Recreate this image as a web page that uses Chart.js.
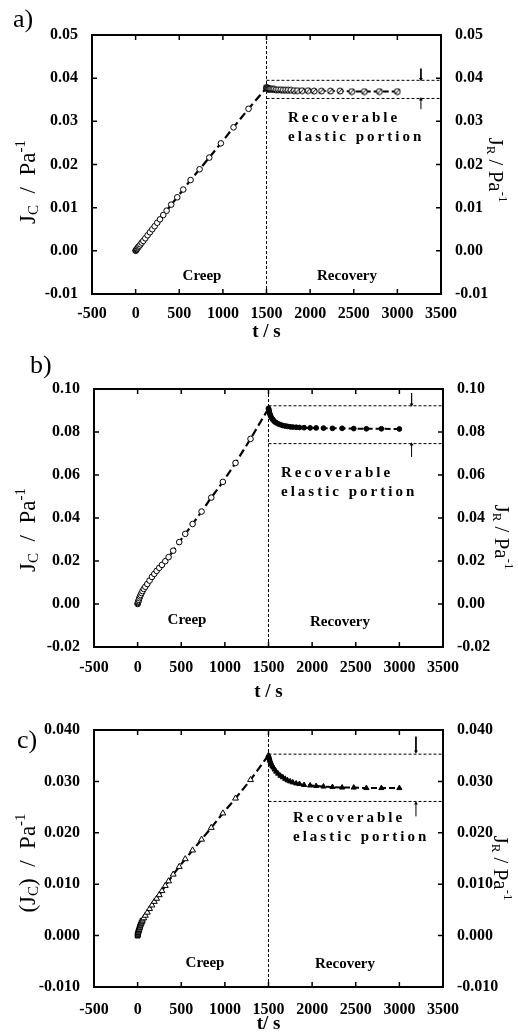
<!DOCTYPE html>
<html lang="en">
<head>
<meta charset="UTF-8">
<title>Creep and recovery compliance</title>
<script src="https://cdn.jsdelivr.net/npm/chart.js"></script>
<style>
  body { margin: 0; background: #fff; }
  #wrap { position: relative; width: 518px; height: 1034px; }
  canvas { position: absolute; left: 0; }
</style>
</head>
<body>
<div id="wrap">
  <canvas id="chartA" width="518" height="345" style="top:0px"></canvas>
  <canvas id="chartB" width="518" height="360" style="top:345px"></canvas>
  <canvas id="chartC" width="518" height="329" style="top:705px"></canvas>
</div>
<script>
// sampling times (s)
const creepTime = [0, 2, 5, 9, 14, 20, 27, 35, 45, 56, 70, 88, 111, 137, 164, 191, 218, 248, 279, 317, 355, 408, 477, 546, 630, 733, 844, 977, 1122, 1294, 1500];
const recoveryTime = [1500, 1502, 1505, 1509, 1514, 1520, 1527, 1535, 1545, 1556, 1570, 1588, 1611, 1637, 1664, 1691, 1718, 1748, 1779, 1817, 1855, 1908, 1977, 2046, 2130, 2233, 2344, 2477, 2622, 2794, 3000];

// a) compliance, Pa^-1
const creepA = [0.0000, 0.0001, 0.0002, 0.0003, 0.0004, 0.0006, 0.0008, 0.0010, 0.0012, 0.0015, 0.0019, 0.0023, 0.0029, 0.0036, 0.0043, 0.0050, 0.0057, 0.0065, 0.0073, 0.0083, 0.0093, 0.0107, 0.0124, 0.0142, 0.0164, 0.0189, 0.0216, 0.0249, 0.0286, 0.0329, 0.0378];
const recoveryA = [0.0378, 0.0378, 0.0377, 0.0377, 0.0376, 0.0376, 0.0375, 0.0375, 0.0375, 0.0374, 0.0374, 0.0374, 0.0373, 0.0373, 0.0373, 0.0372, 0.0372, 0.0372, 0.0372, 0.0371, 0.0371, 0.0371, 0.0371, 0.0370, 0.0370, 0.0370, 0.0370, 0.0369, 0.0369, 0.0369, 0.0369];
const levelsA = [0.0395, 0.0353];
const arrowXA = 3270;
const arrowDownA = [0.0422, 0.0398];
const arrowUpA = [0.0328, 0.0351];

// b)
const creepB = [0.0000, 0.0004, 0.0008, 0.0013, 0.0019, 0.0027, 0.0035, 0.0042, 0.0051, 0.0060, 0.0070, 0.0080, 0.0093, 0.0109, 0.0126, 0.0140, 0.0154, 0.0168, 0.0182, 0.0199, 0.0218, 0.0248, 0.0288, 0.0326, 0.0372, 0.0430, 0.0495, 0.0568, 0.0656, 0.0768, 0.0910];
const recoveryB = [0.0910, 0.0906, 0.0900, 0.0893, 0.0886, 0.0879, 0.0872, 0.0866, 0.0860, 0.0854, 0.0848, 0.0843, 0.0838, 0.0834, 0.0830, 0.0828, 0.0826, 0.0824, 0.0823, 0.0822, 0.0821, 0.0820, 0.0819, 0.0819, 0.0818, 0.0817, 0.0817, 0.0816, 0.0815, 0.0815, 0.0814];
const levelsB = [0.0922, 0.0746];
const arrowXB = 3140;
const arrowDownB = [0.0981, 0.0928];
const arrowUpB = [0.0684, 0.0742];

// c)
const creepC = [0.0000, 0.0002, 0.0004, 0.0007, 0.0010, 0.0013, 0.0017, 0.0021, 0.0025, 0.0029, 0.0034, 0.0039, 0.0045, 0.0052, 0.0059, 0.0066, 0.0072, 0.0079, 0.0087, 0.0097, 0.0106, 0.0119, 0.0134, 0.0149, 0.0166, 0.0187, 0.0210, 0.0238, 0.0267, 0.0303, 0.0351];
const recoveryC = [0.0351, 0.0349, 0.0347, 0.0345, 0.0342, 0.0339, 0.0336, 0.0333, 0.0330, 0.0327, 0.0323, 0.0319, 0.0315, 0.0311, 0.0308, 0.0305, 0.0302, 0.0300, 0.0298, 0.0296, 0.0295, 0.0293, 0.0292, 0.0291, 0.0290, 0.0289, 0.0288, 0.0288, 0.0287, 0.0287, 0.0287];
const levelsC = [0.0353, 0.0261];
const arrowXC = 3190;
const arrowDownC = [0.0387, 0.0358];
const arrowUpC = [0.0232, 0.0257];

const xRange = [-500, 3500];
const xStep = 500;
const tStep = 1500; // creep -> recovery switch

function serif(size, bold) {
  return (bold ? 'bold ' : '') + size + 'px "Liberation Serif", "Times New Roman", serif';
}

function pts(xs, ys) {
  return xs.map((x, i) => ({ x: x, y: ys[i] }));
}

function crossedCircle() {
  const c = document.createElement('canvas');
  c.width = 8; c.height = 8;
  const g = c.getContext('2d');
  g.fillStyle = '#fff'; g.strokeStyle = '#000'; g.lineWidth = 1;
  g.beginPath(); g.arc(4, 4, 3, 0, Math.PI * 2); g.fill(); g.stroke();
  g.beginPath(); g.moveTo(2, 6); g.lineTo(6, 2); g.stroke();
  return c;
}

function spaced(ctx, text, x, y, gap) {
  for (const ch of text) {
    ctx.fillText(ch, x, y);
    x += ctx.measureText(ch).width + gap;
  }
}

function rotTitle(ctx, x, y, angle, parts) {
  ctx.save();
  ctx.translate(x, y);
  ctx.rotate(angle);
  let w = 0;
  parts.forEach(p => { ctx.font = serif(p.size); p.w = ctx.measureText(p.text).width; w += p.w; });
  let cx = -w / 2;
  ctx.textBaseline = 'middle';
  ctx.textAlign = 'left';
  parts.forEach(p => { ctx.font = serif(p.size); ctx.fillText(p.text, cx, p.dy || 0); cx += p.w; });
  ctx.restore();
}

const decor = {
  id: 'decor',
  afterDraw(chart, args, o) {
    const { ctx, chartArea: a, scales } = chart;
    ctx.save();
    ctx.strokeStyle = '#000';
    ctx.fillStyle = '#000';
    // inward ticks
    ctx.lineWidth = 1.5;
    ctx.beginPath();
    scales.x.ticks.forEach(t => {
      const px = scales.x.getPixelForValue(t.value);
      ctx.moveTo(px, a.bottom); ctx.lineTo(px, a.bottom - 5);
      ctx.moveTo(px, a.top); ctx.lineTo(px, a.top + 5);
    });
    scales.y.ticks.forEach(t => {
      const py = scales.y.getPixelForValue(t.value);
      ctx.moveTo(a.left, py); ctx.lineTo(a.left + 5, py);
      ctx.moveTo(a.right, py); ctx.lineTo(a.right - 5, py);
    });
    ctx.stroke();
    ctx.lineWidth = 2;
    ctx.strokeRect(a.left, a.top, a.right - a.left, a.bottom - a.top);

    // panel letter
    ctx.font = serif(26);
    ctx.textAlign = 'left';
    ctx.textBaseline = 'alphabetic';
    ctx.fillText(o.letter[0], o.letter[1], o.letter[2]);

    // region labels
    ctx.font = serif(15, true);
    ctx.textAlign = 'center';
    ctx.textBaseline = 'middle';
    ctx.fillText('Creep', o.creepAt[0], o.creepAt[1]);
    ctx.fillText('Recovery', o.recAt[0], o.recAt[1]);
    ctx.font = serif(15, true);
    ctx.textAlign = 'left';
    spaced(ctx, 'Recoverable', o.elasticAt[0], o.elasticAt[1], 3);
    spaced(ctx, 'elastic portion', o.elasticAt[0], o.elasticAt[1] + 19, 3);

    // axis titles
    rotTitle(ctx, o.leftTitle[0], o.leftTitle[1], -Math.PI / 2, o.leftParts);
    rotTitle(ctx, o.rightTitle[0], o.rightTitle[1], Math.PI / 2, [
      { text: 'J', size: 21 }, { text: 'R', size: 13, dy: 5 },
      { text: ' / Pa', size: 21 }, { text: '-1', size: 13, dy: -7 }
    ]);
    ctx.restore();
  }
};

function build(id, p) {
  const fmt = v => Number(v).toFixed(p.dec);
  const tickFont = { family: '"Liberation Serif", "Times New Roman", serif', weight: 'bold', size: 16 };
  const refLine = { showLine: true, borderColor: '#000', borderWidth: 1, borderDash: [3, 2], pointRadius: 0, fill: false };
  const arrow = (ys, rot) => Object.assign({}, refLine, {
    data: pts([p.arrowX, p.arrowX], ys), borderDash: [],
    pointRadius: [0, 2.2], pointStyle: 'triangle', pointRotation: rot,
    pointBackgroundColor: '#000', pointBorderColor: '#000', pointBorderWidth: 0
  });
  const creepRadius = creepTime.map((t, i) => i === creepTime.length - 1 ? 0 : p.creepR);
  return new Chart(document.getElementById(id), {
    type: 'scatter',
    data: {
      datasets: [
        {
          label: 'Recovery', data: pts(recoveryTime, p.recovery), showLine: true,
          borderColor: '#000', borderWidth: 2, borderDash: [6, 3],
          pointStyle: p.recStyle, pointRadius: p.recR,
          pointBackgroundColor: p.recFill, pointBorderColor: '#000', pointBorderWidth: 1
        },
        {
          label: 'Creep', data: pts(creepTime, p.creep), showLine: true,
          borderColor: '#000', borderWidth: 2.2, borderDash: [8, 4],
          pointStyle: p.creepStyle, pointRadius: creepRadius,
          pointBackgroundColor: p.creepFill, pointBorderColor: '#000', pointBorderWidth: 1
        },
        Object.assign({}, refLine, { data: pts([tStep, tStep], [p.yMin, p.yMax]) }),
        Object.assign({}, refLine, { data: pts([tStep, xRange[1]], [p.levels[0], p.levels[0]]) }),
        Object.assign({}, refLine, { data: pts([tStep, xRange[1]], [p.levels[1], p.levels[1]]) }),
        arrow(p.arrowDown, 180),
        arrow(p.arrowUp, 0)
      ]
    },
    options: {
      responsive: false,
      animation: false,
      devicePixelRatio: 1,
      layout: { padding: { top: p.top, left: 0, right: 0, bottom: 0 } },
      plugins: {
        legend: { display: false },
        tooltip: { enabled: false },
        decor: p.decor
      },
      scales: {
        x: {
          type: 'linear', position: 'bottom', min: xRange[0], max: xRange[1],
          grid: { display: false }, border: { display: false },
          ticks: { stepSize: xStep, color: '#000', font: tickFont, padding: p.xPad, maxRotation: 0,
                   callback: v => String(v) },
          title: { display: true, text: p.xTitle, color: '#000',
                   font: { family: '"Liberation Serif", "Times New Roman", serif', weight: 'bold', size: 19, lineHeight: 1 },
                   padding: { top: 0, bottom: p.titlePad } },
          afterFit: s => { s.height = p.xh; }
        },
        y: {
          type: 'linear', position: 'left', min: p.yMin, max: p.yMax,
          grid: { display: false }, border: { display: false },
          ticks: { stepSize: p.yStep, color: '#000', font: tickFont, padding: 6, callback: fmt },
          afterFit: s => { s.width = p.lw; }
        },
        y2: {
          type: 'linear', position: 'right', min: p.yMin, max: p.yMax,
          grid: { display: false }, border: { display: false },
          ticks: { stepSize: p.yStep, color: '#000', font: tickFont, padding: 6, callback: fmt },
          afterFit: s => { s.width = p.rw; }
        }
      }
    },
    plugins: [decor]
  });
}

const leftJc = [
  { text: 'J', size: 23 }, { text: 'C', size: 15, dy: 5 },
  { text: '  /  Pa', size: 23 }, { text: '-1', size: 15, dy: -8 }
];
const leftJcParen = [
  { text: '(J', size: 23 }, { text: 'C', size: 15, dy: 5 },
  { text: ')  /  Pa', size: 23 }, { text: '-1', size: 15, dy: -8 }
];

build('chartA', {
  creep: creepA, recovery: recoveryA, levels: levelsA,
  arrowX: arrowXA, arrowDown: arrowDownA, arrowUp: arrowUpA,
  yMin: -0.01, yMax: 0.05, yStep: 0.01, dec: 2,
  creepStyle: 'circle', creepR: 2.8, creepFill: '#fff',
  recStyle: crossedCircle(), recR: 3, recFill: '#fff',
  top: 35, lw: 92, rw: 77, xh: 51, xPad: 2, titlePad: 3, xTitle: 't / s',
  decor: {
    letter: ['a)', 13, 27], creepAt: [202, 276], recAt: [347, 276], elasticAt: [288, 118],
    leftTitle: [29, 182], rightTitle: [495, 170], leftParts: leftJc
  }
});

build('chartB', {
  creep: creepB, recovery: recoveryB, levels: levelsB,
  arrowX: arrowXB, arrowDown: arrowDownB, arrowUp: arrowUpB,
  yMin: -0.02, yMax: 0.10, yStep: 0.02, dec: 2,
  creepStyle: 'circle', creepR: 2.8, creepFill: '#fff',
  recStyle: 'circle', recR: 2.4, recFill: '#000',
  top: 44, lw: 94, rw: 75, xh: 58, xPad: 3, titlePad: 3, xTitle: 't / s',
  decor: {
    letter: ['b)', 30, 28], creepAt: [187, 275], recAt: [340, 277], elasticAt: [281, 128],
    leftTitle: [29, 185], rightTitle: [501, 192], leftParts: leftJc
  }
});

build('chartC', {
  creep: creepC, recovery: recoveryC, levels: levelsC,
  arrowX: arrowXC, arrowDown: arrowDownC, arrowUp: arrowUpC,
  yMin: -0.010, yMax: 0.040, yStep: 0.010, dec: 3,
  creepStyle: creepTime.map((t, i) => i < 10 ? 'rect' : 'triangle'), creepR: 3.4,
  creepFill: creepTime.map((t, i) => i < 10 ? '#666' : '#fff'),
  recStyle: 'triangle', recR: 3, recFill: '#000',
  top: 25, lw: 94, rw: 75, xh: 47, xPad: 5, titlePad: 0, xTitle: 't/ s',
  decor: {
    letter: ['c)', 17, 43], creepAt: [205, 258], recAt: [345, 259], elasticAt: [293, 113],
    leftTitle: [29, 158], rightTitle: [500, 163], leftParts: leftJcParen
  }
});
</script>
</body>
</html>
